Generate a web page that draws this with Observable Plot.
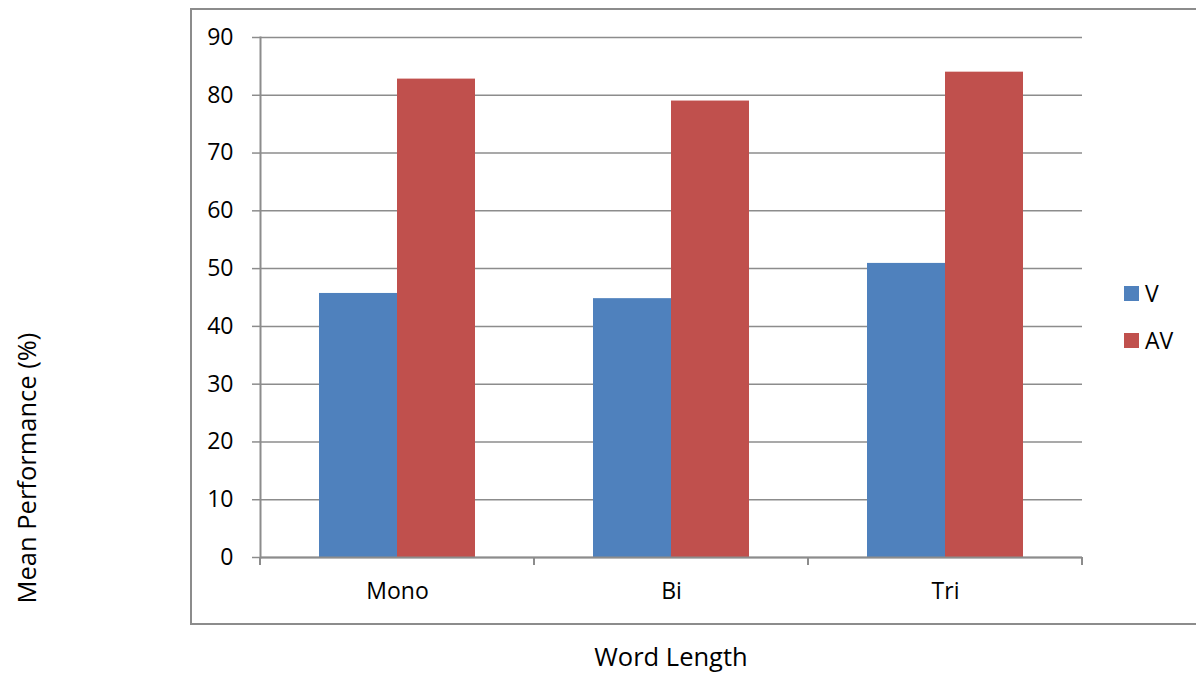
<!DOCTYPE html>
<html><head><meta charset="utf-8">
<script src="https://cdn.jsdelivr.net/npm/d3@7"></script>
<script src="https://cdn.jsdelivr.net/npm/@observablehq/plot@0.6"></script>
<style>
body{margin:0;background:#fff;font-family:"Open Sans",sans-serif;}
#wrap{position:relative;width:1196px;height:677px;overflow:hidden;background:#fff}
#frame{position:absolute;left:190px;top:8px;width:1020px;height:617px;border:2px solid #8c8c8c;box-sizing:border-box}
#chart{position:absolute;left:0;top:0}
.t{position:absolute;font-size:25.5px;color:#000;white-space:nowrap;line-height:1}
#ytitle{left:27px;top:468px;transform:translate(-50%,-50%) rotate(-90deg)}
#xtitle{left:671px;top:657px;transform:translate(-50%,-50%)}
.leg{position:absolute;left:1124px;display:flex;align-items:center;font-size:23px;line-height:1}
.leg span.sw{display:inline-block;width:15px;height:15px;margin-right:6px}
</style>
</head><body>
<div id="wrap">
  <div id="frame"></div>
  <div id="chart"></div>
  <div class="t" id="ytitle">Mean Performance (%)</div>
  <div class="t" id="xtitle">Word Length</div>
  <div id="legend"></div>
</div>
<script>
const categories = ["Mono", "Bi", "Tri"];
const series = ["V", "AV"];
const vValues = [45.7, 44.8, 50.9];
const avValues = [82.8, 79.0, 84.0];
const yTicks = [0, 10, 20, 30, 40, 50, 60, 70, 80, 90];
const colors = ["#4F81BD", "#C0504D"];

const data = [];
categories.forEach((c, i) => {
  data.push({cat: c, series: "V", value: vValues[i]});
  data.push({cat: c, series: "AV", value: avValues[i]});
});

const gray = "#8c8c8c";
const plot = Plot.plot({
  width: 1196, height: 677,
  marginLeft: 260, marginRight: 114, marginTop: 37, marginBottom: 120,
  style: {fontFamily: "Open Sans, sans-serif", fontSize: "23px", color: "#000", background: "transparent", overflow: "visible"},
  fx: {domain: categories, padding: 0, label: null},
  x: {domain: series, paddingInner: 0, paddingOuter: 0.756, axis: null},
  y: {domain: [0, 90], label: null},
  color: {domain: series, range: colors},
  marks: [
    Plot.gridY(yTicks, {stroke: gray, strokeOpacity: 1, strokeWidth: 1.5}),
    Plot.barY(data, {fx: "cat", x: "series", y: "value", fill: "series"}),
    Plot.ruleY([0], {stroke: gray, strokeWidth: 2}),
    Plot.frame({anchor: "left", stroke: gray, strokeWidth: 2, facetAnchor: "left"}),
    Plot.axisY(yTicks, {anchor: "left", tickSize: 8, tickPadding: 19, stroke: gray, strokeWidth: 1.5, label: null, fill: "#000"}),
    Plot.axisFx({anchor: "bottom", tickSize: 0, tickPadding: 25, label: null, fill: "#000"})
  ]
});
document.getElementById("chart").appendChild(plot);

// boundary tick marks on the category axis from the fx scale
const fx = plot.scale("fx");
const yS = plot.scale("y");
const svg = d3.select(plot);
const y0 = yS.apply(0);
const edges = categories.map(c => fx.apply(c)).concat([fx.apply(categories[categories.length - 1]) + fx.bandwidth]);
svg.append("g").selectAll("line").data(edges).join("line")
  .attr("x1", d => d).attr("x2", d => d)
  .attr("y1", y0).attr("y2", y0 + 8)
  .attr("stroke", gray).attr("stroke-width", 2);

// legend
const leg = document.getElementById("legend");
const legTops = [293, 340.5];
series.forEach((s, i) => {
  const d = document.createElement("div");
  d.className = "leg";
  d.style.top = (legTops[i] - 12) + "px";
  d.style.height = "24px";
  d.innerHTML = `<span class="sw" style="background:${colors[i]}"></span><span>${s}</span>`;
  leg.appendChild(d);
});
</script>
</body></html>
